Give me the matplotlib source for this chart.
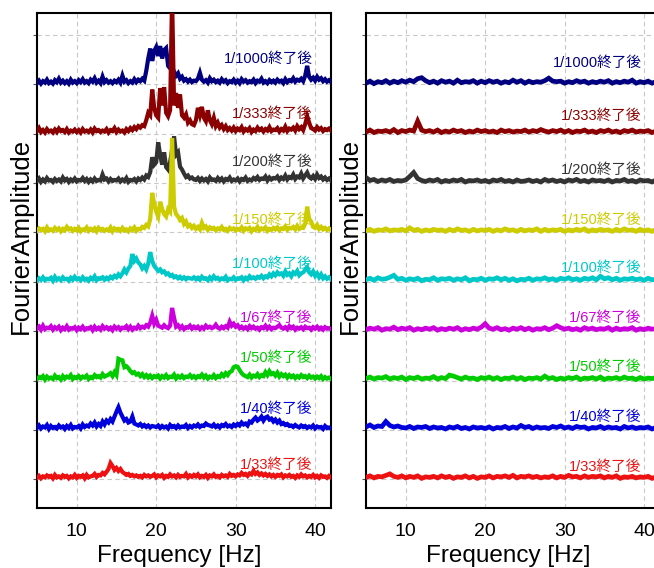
import numpy as np
import matplotlib
matplotlib.use("Agg")
import matplotlib.pyplot as plt

plt.rcParams['font.family'] = ['Liberation Sans', 'Noto Sans CJK JP', 'DejaVu Sans']

# conditions, top trace first
labels = ['1/1000終了後', '1/333終了後', '1/200終了後', '1/150終了後', '1/100終了後',
          '1/67終了後', '1/50終了後', '1/40終了後', '1/33終了後']
colors = ['#000080', '#8b0000', '#333333', '#cccc00', '#00c8c8',
          '#cc00dd', '#00cc00', '#0000dd', '#ee1111']

# left panel: amplitude (1/100 of trace spacing), 5-42 Hz every 0.25 Hz
freq_left = np.arange(5, 42.001, 0.25)
left_1000 = [5,10,4,9,6,12,5,8,4,11,7,14,6,10,5,9,4,12,6,9,
             5,11,7,13,6,9,5,12,8,15,6,10,5,18,7,11,6,9,5,10,
             7,12,6,20,8,11,5,9,6,13,7,12,9,14,10,30,55,75,50,70,
             78,60,80,55,72,76,40,35,38,28,20,25,14,18,10,13,8,12,7,10,
             9,14,26,12,8,11,6,15,9,12,7,10,6,13,8,11,5,9,7,12,
             6,10,5,13,8,11,6,9,7,12,5,10,8,14,6,9,5,11,7,10,
             6,12,8,10,5,13,7,11,9,15,8,12,10,14,9,20,40,18,12,16,
             10,18,12,15,9,13,8,11,7]
left_333 = [8,14,6,10,5,12,7,9,5,11,6,13,8,10,6,12,5,9,7,11,
            6,10,5,12,7,9,6,11,5,13,8,10,6,9,7,12,5,10,8,14,
            6,11,7,9,5,12,8,14,10,16,12,18,15,20,18,30,45,40,92,55,
            40,35,95,60,97,45,38,50,280,60,85,55,82,40,35,42,25,30,22,20,
            30,55,40,57,35,28,50,30,22,35,18,25,15,20,12,18,10,14,9,15,
            8,13,10,16,7,12,9,14,6,11,8,15,10,13,7,12,9,16,8,11,
            10,14,7,12,9,17,8,13,11,15,9,18,12,16,10,22,38,25,14,12,
            9,16,11,14,8,12,10,13,9]
left_200 = [7,12,5,10,6,13,8,9,5,11,7,10,6,14,8,11,5,10,7,12,
            6,9,8,13,7,11,5,10,6,12,7,9,8,20,10,12,6,11,7,9,
            8,12,6,10,7,13,5,9,8,11,6,12,9,14,10,18,15,25,55,40,
            45,85,60,40,65,35,30,45,70,97,60,65,36,30,22,15,18,12,14,10,
            9,13,7,12,8,11,6,14,9,10,7,13,8,12,6,11,9,14,7,10,
            8,12,6,11,9,14,7,10,8,13,10,15,9,12,11,16,8,14,10,13,
            12,16,9,14,11,18,10,15,13,20,11,16,14,22,12,18,24,15,12,17,
            11,20,13,16,10,14,9,12,8]
left_150 = [6,11,8,10,5,13,7,9,6,12,8,11,5,10,7,14,9,11,6,10,
            7,12,5,9,8,13,6,10,7,11,5,12,8,10,6,9,7,13,5,11,
            8,10,6,12,7,9,5,11,8,13,6,10,9,14,12,18,15,30,83,60,
            45,35,65,50,40,35,50,45,194,55,40,35,28,32,20,25,15,18,12,16,
            10,14,9,22,12,15,8,13,10,12,7,11,9,14,8,10,6,12,9,11,
            7,10,8,13,6,11,9,12,5,10,8,14,7,11,9,13,6,10,8,12,
            9,13,7,11,10,15,8,12,11,14,9,16,10,13,12,20,55,30,25,14,
            12,18,10,14,9,12,8,11,7]
left_100 = [5,10,7,12,6,9,8,11,5,13,7,10,6,12,8,9,5,11,7,13,
            8,10,6,12,7,9,5,11,8,14,6,10,9,12,7,11,8,13,10,15,
            12,18,14,20,28,22,30,35,59,45,50,42,38,30,35,28,40,63,45,35,
            30,25,28,22,24,18,20,15,17,12,14,10,13,9,12,8,11,10,9,12,
            8,11,7,13,9,10,6,12,8,14,9,11,7,10,8,13,6,9,8,12,
            7,10,9,12,6,11,8,14,10,12,9,13,11,15,10,14,12,18,14,20,
            16,22,18,20,15,24,17,20,14,22,19,25,16,20,22,27,32,22,18,24,
            15,20,12,18,10,14,9,12,8]
left_67 = [8,12,6,14,7,10,9,13,6,11,8,12,5,10,7,13,6,9,8,11,
           5,10,7,12,6,9,8,11,5,12,7,10,6,13,8,11,7,10,5,12,
           8,11,6,10,9,13,7,12,6,10,8,14,9,12,10,15,12,20,34,18,
           26,14,12,10,15,11,9,14,50,30,12,15,9,13,7,11,10,14,8,12,
           9,12,7,11,8,14,10,12,9,11,16,10,8,12,9,13,10,22,14,18,
           12,15,9,12,8,11,7,13,9,12,8,10,6,11,9,14,8,12,7,10,
           9,12,15,10,8,11,7,13,9,12,6,10,8,11,7,12,9,10,6,11,
           8,12,7,10,6,11,8,9,7]
left_50 = [6,10,8,12,5,11,7,9,6,13,8,10,5,12,7,11,9,14,6,10,
           8,12,7,11,9,13,6,10,8,14,10,12,9,16,11,13,15,18,12,20,
           14,47,45,44,30,32,28,22,18,20,15,17,12,16,10,14,9,13,8,12,
           10,13,7,12,9,14,8,11,10,15,7,12,9,13,8,11,10,14,9,12,
           8,12,10,15,9,13,7,11,9,14,8,12,10,16,12,18,14,20,22,30,
           32,31,24,18,14,12,10,15,9,13,11,16,10,14,12,20,14,22,16,18,
           13,19,11,16,12,15,9,14,10,13,8,12,9,14,10,12,8,13,9,11,
           7,11,8,12,6,10,7,9,6]
left_40 = [7,12,6,10,8,13,5,11,7,9,6,12,8,10,5,11,7,13,6,9,
           8,11,6,14,9,12,10,16,12,18,10,15,11,20,14,22,18,25,20,30,
           40,49,38,30,22,25,18,20,30,16,14,12,15,10,13,9,12,8,11,10,
           9,12,7,11,8,10,6,13,9,11,7,12,8,10,9,13,7,11,8,12,
           10,14,9,12,11,16,13,12,10,14,9,12,8,13,11,15,10,12,9,14,
           11,15,12,18,14,16,12,20,18,24,28,22,25,30,22,28,30,24,26,20,
           24,18,22,15,17,13,15,11,12,9,13,10,8,12,9,11,7,10,8,12,
           6,10,8,9,5,11,7,8,6]
left_33 = [6,10,5,9,7,11,8,10,5,12,7,9,6,11,8,10,5,9,7,12,
           6,10,8,11,5,12,7,9,10,14,8,12,11,16,13,18,24,36,30,22,
           26,20,24,18,15,12,14,10,12,9,11,8,10,7,12,9,11,8,10,13,
           7,11,9,12,6,10,8,13,9,11,7,12,8,10,9,14,7,11,8,12,
           9,13,7,10,8,12,6,11,9,13,8,10,7,12,9,11,8,14,10,12,
           9,13,11,16,12,14,10,15,13,20,14,17,12,15,11,14,10,13,9,12,
           8,12,10,13,7,11,9,12,8,10,6,11,8,13,9,11,7,10,8,12,
           7,10,6,11,8,9,6,10,7]

# right panel: 5-42 Hz every 0.5 Hz
freq_right = np.arange(5, 42.001, 0.5)
right_1000 = [5,9,4,8,6,10,5,9,6,10, 7,11,8,14,16,10,6,9,5,10,
              7,9,5,11,6,8,7,10,5,9, 6,10,7,9,5,8,6,11,7,10,
              5,9,6,8,7,10,15,9,8,9, 5,8,6,10,7,9,5,8,6,9,
              7,10,5,8,6,9,7,11,5,8, 6,9,5,8,6]
right_333 = [6,10,5,8,7,9,6,11,5,9, 7,10,8,28,10,7,9,6,10,5,
             8,6,10,7,9,5,8,6,10,7, 9,6,8,5,10,7,9,6,8,7,
             10,6,9,7,11,8,6,9,7,10, 6,9,5,8,7,10,6,8,5,9,
             7,10,6,8,5,9,7,10,6,8, 7,9,5,8,6]
right_200 = [14,8,10,6,9,7,10,6,8,7, 9,16,24,12,8,6,9,7,10,5,
             8,6,9,7,10,5,8,7,9,6, 8,5,9,7,10,6,8,5,9,6,
             7,9,6,8,5,10,7,9,6,8, 5,9,7,10,6,8,5,9,7,8,
             6,9,5,8,7,10,6,8,5,9, 7,8,5,9,6]
right_150 = [6,9,5,8,7,10,6,8,7,9, 6,12,7,9,5,8,6,9,7,8,
             5,9,6,10,7,8,5,9,6,8, 7,9,5,8,6,10,7,8,5,9,
             6,8,7,10,5,9,6,8,7,9, 5,8,6,9,7,10,5,8,6,9,
             7,8,5,9,6,10,7,8,5,9, 6,8,5,9,6]
right_100 = [7,10,6,11,8,9,12,16,8,10, 6,9,7,10,5,8,7,11,6,9,
             8,10,6,9,7,11,5,8,7,10, 6,9,8,11,7,10,6,9,5,8,
             7,10,6,9,8,11,7,9,6,10, 8,11,7,9,6,10,8,11,7,14,
             9,11,7,10,6,9,8,10,7,9, 6,10,7,8,6]
right_67 = [6,9,7,10,5,8,7,11,6,9, 7,10,5,8,6,9,7,10,5,8,
            6,9,7,10,5,8,6,9,7,11, 18,9,7,10,6,8,5,9,7,10,
            6,9,5,8,7,10,6,9,14,10, 7,9,6,8,5,10,7,9,6,8,
            7,10,5,9,6,8,7,10,5,8, 6,9,7,8,5]
right_50 = [7,10,6,9,8,11,6,9,7,10, 5,9,7,10,6,8,7,11,6,9,
            7,14,12,9,6,10,7,8,5,9, 7,10,6,9,5,8,7,10,6,9,
            5,8,7,9,6,12,7,9,5,8, 6,9,7,10,5,8,7,9,6,10,
            5,8,7,9,6,10,7,8,5,9, 6,8,7,9,6]
right_40 = [9,13,8,11,10,20,12,9,11,8, 7,10,6,9,8,10,6,9,7,8,
            5,9,7,10,6,8,5,9,7,8, 6,9,5,8,7,10,6,9,7,12,
            8,10,6,9,7,8,6,10,8,11, 7,9,6,10,8,9,5,8,7,10,
            6,9,7,8,5,10,7,9,6,8, 7,9,5,8,6]
right_33 = [7,10,6,9,8,11,14,9,7,10, 6,9,7,10,5,8,7,9,6,10,
            7,9,5,8,7,10,6,9,5,8, 7,10,6,9,8,10,7,11,6,9,
            8,10,7,9,6,8,7,10,6,9, 7,11,8,9,6,10,7,9,8,10,
            6,9,7,10,5,8,7,9,6,8, 7,9,5,8,6]

left_data = [left_1000, left_333, left_200, left_150, left_100, left_67, left_50, left_40, left_33]
right_data = [right_1000, right_333, right_200, right_150, right_100, right_67, right_50, right_40, right_33]

# label heights above each baseline
left_label_dy = [0.54, 0.42, 0.45, 0.28, 0.38, 0.30, 0.48, 0.45, 0.32]
right_label_dy = [0.46, 0.39, 0.29, 0.29, 0.30, 0.30, 0.30, 0.30, 0.29]

fig = plt.figure(figsize=(6.54, 5.68), dpi=100)
ax1 = fig.add_axes([37/654, 60/568, 294/654, 495/568])
ax2 = fig.add_axes([366/654, 60/568, 294/654, 495/568])

n = len(labels)
for ax, freq, data, dys, lw in [(ax1, freq_left, left_data, left_label_dy, 3.0),
                                (ax2, freq_right, right_data, right_label_dy, 3.4)]:
    for k in range(n):
        base = n - 1 - k
        amp = np.array(data[k]) / 100.0
        ax.plot(freq, base + amp, color=colors[k], lw=lw, zorder=3 + k,
                solid_joinstyle='miter')
        ax.text(39.7, base + dys[k], labels[k], color=colors[k], fontsize=10.5,
                ha='right', va='center', zorder=20)
    ax.set_xlim(5, 42)
    ax.set_ylim(-0.55, 9.47)
    ax.set_xticks([10, 20, 30, 40])
    ax.set_yticks([i + 0.03 for i in range(10)])
    ax.set_yticklabels([])
    ax.grid(True, color='#c8c8c8', ls=(0, (4, 3)), lw=0.8, zorder=0)
    ax.tick_params(axis='x', length=0, labelsize=14, pad=11)
    ax.tick_params(axis='y', direction='out', length=3, width=0.8, color='#555555')
    for s in ax.spines.values():
        s.set_linewidth(1.5)
    ax.set_xlabel('Frequency [Hz]', fontsize=17.5, labelpad=5)
    ax.xaxis.set_label_coords(0.485, -0.075)
    ax.set_ylabel('FourierAmplitude', fontsize=18.5)
    ax.yaxis.set_label_coords(-0.013, 0.55)

fig.savefig('out.png', dpi=100)
